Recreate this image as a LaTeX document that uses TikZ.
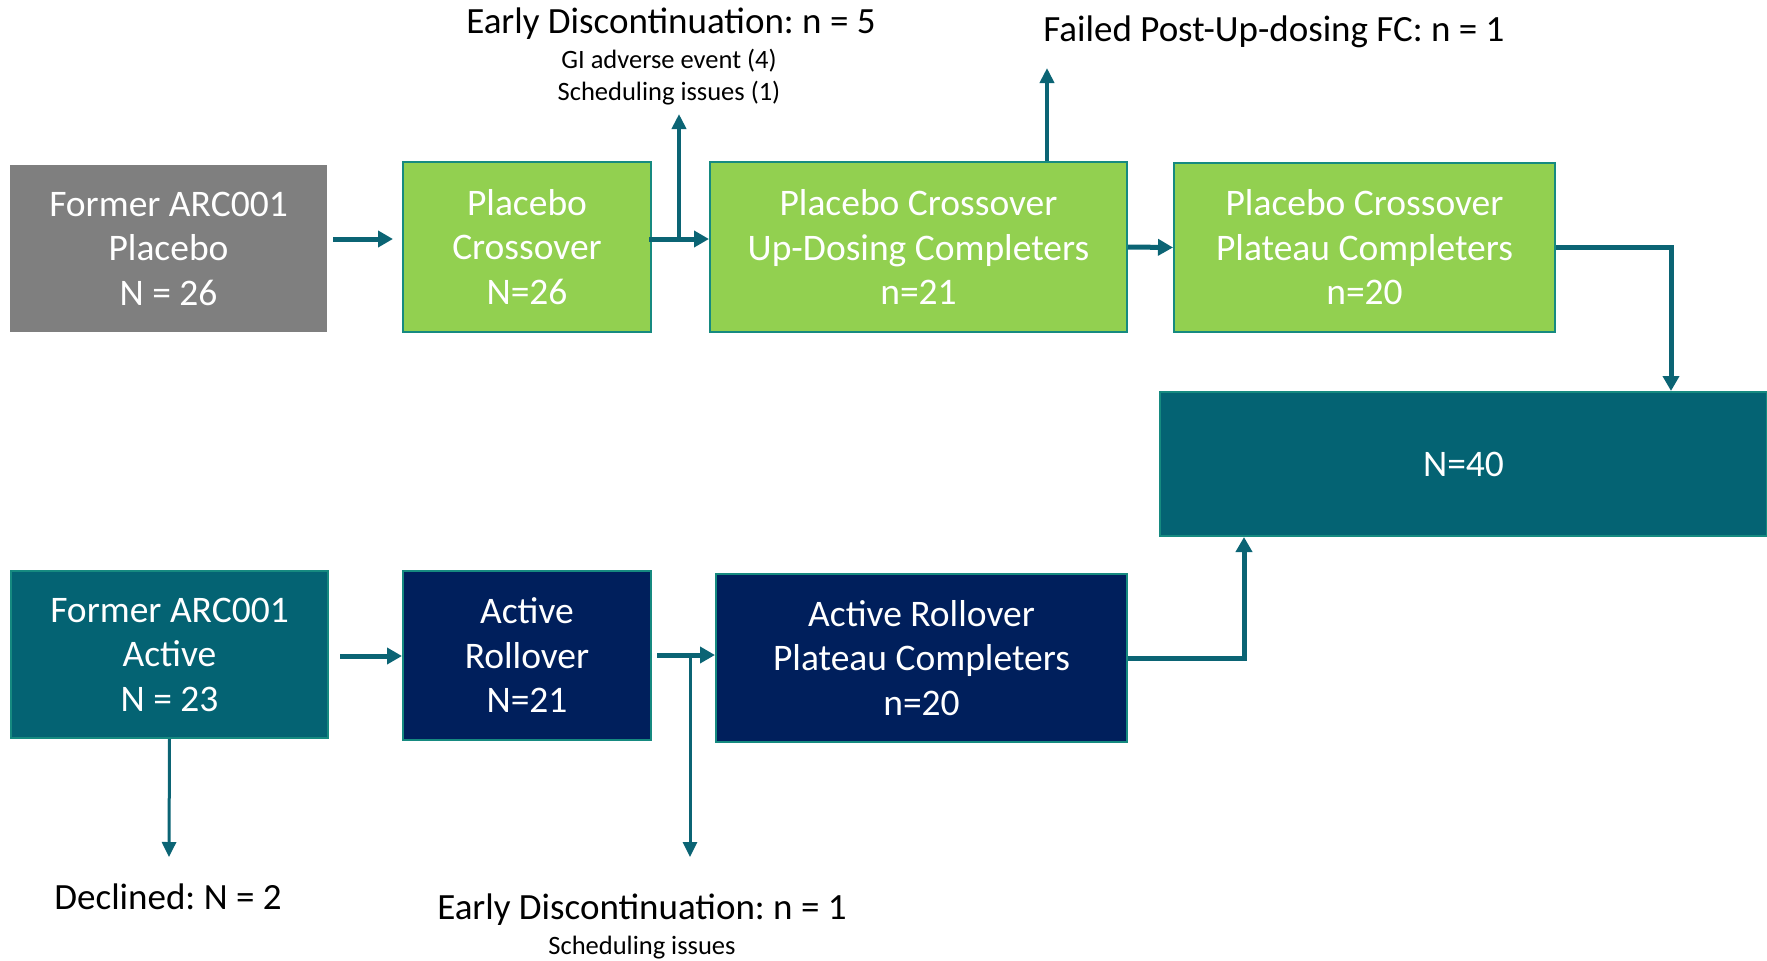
\documentclass[tikz,border=0pt]{standalone}
\usepackage{fontspec}
\setmainfont{Carlito}
\usetikzlibrary{arrows.meta}
\frenchspacing
\definecolor{greybox}{HTML}{7F7F7F}
\definecolor{greenbox}{HTML}{92D050}
\definecolor{tealbox}{HTML}{046373}
\definecolor{navybox}{HTML}{001F5C}
\definecolor{boxedge}{HTML}{168A80}
\definecolor{flowcol}{HTML}{0B6474}
\tikzset{
  box/.style={draw=boxedge,line width=2,text=white,align=center,inner sep=0,
    font=\fontsize{37.5}{44.5}\selectfont},
  flow/.style={draw=flowcol,line width=5,-{Triangle[length=15,width=16]}},
  branch/.style={draw=flowcol,line width=4,-{Triangle[length=15,width=14]}},
  title/.style={font=\fontsize{37}{42}\selectfont},
  note/.style={font=\fontsize{26.5}{32.7}\selectfont,align=center}
}
\begin{document}
\begin{tikzpicture}[x=1pt,y=1pt]
\useasboundingbox(0,0)rectangle(1767,-961);
% placebo row
\node[box,draw=none,fill=greybox,minimum width=317,minimum height=167](fp)at(168.5,-248.5){Former ARC001\\Placebo\\N = 26};
\node[box,fill=greenbox,minimum width=248,minimum height=170](pc)at(527,-247){Placebo\\Crossover\\N=26};
\node[box,fill=greenbox,minimum width=417,minimum height=170](pu)at(918.5,-247){Placebo Crossover\\Up-Dosing Completers\\n=21};
\node[box,fill=greenbox,minimum width=381,minimum height=169](pp)at(1364.5,-247.5){Placebo Crossover\\Plateau Completers\\n=20};
% pooled
\node[box,fill=tealbox,minimum width=607,minimum height=144](tot)at(1463.5,-464){N=40};
% active row
\node[box,fill=tealbox,minimum width=317,minimum height=167](fa)at(169.5,-654.5){Former ARC001\\Active\\N = 23};
\node[box,fill=navybox,minimum width=248,minimum height=169](ar)at(527,-655.5){Active\\Rollover\\N=21};
\node[box,fill=navybox,minimum width=411,minimum height=168](ap)at(921.5,-658){Active Rollover\\Plateau Completers\\n=20};
% drop-outs
\node[title](ed5)at(671,-24){Early Discontinuation: n = 5};
\node[note](ed5n)at(669,-77){GI adverse event (4)\\Scheduling issues (1)};
\node[title](ff)at(1274,-32){Failed Post-Up-dosing FC: n = 1};
\node[title](dec)at(168,-897){Declined: N = 2};
\node[title](ed1)at(642,-910){Early Discontinuation: n = 1};
\node[note](ed1n)at(642,-948){Scheduling issues};
\coordinate(ed5a)at(679,-114);
\coordinate(ffa)at(1047,-68);
\coordinate(deca)at(169,-857);
\coordinate(ed1a)at(690,-857);
% connectors
\draw[flow,shorten <=5,shorten >=9](fp.east|-0,-239)--(pc.west|-0,-239);
\draw[flow,shorten <=-3](pc.east|-0,-239)--(pu.west|-0,-239);
\draw[branch](ed5a|-0,-239)--(ed5a);
\draw[branch](ffa|-pu.north)--(ffa);
\draw[flow](pu.east)--(pp.west);
\draw[flow](pp.east)-|([xshift=207.5]tot.north);
\draw[flow,shorten <=11](fa.east|-0,-656)--(ar.west|-0,-656);
\draw[flow,shorten <=5](ar.east|-0,-655)--(ap.west|-0,-655);
\draw[branch,line width=3](ed1a|-0,-655)--(ed1a);
\draw[branch,line width=3](fa.south)--(deca);
\draw[flow](ap.east)-|([xshift=-219.5]tot.south);
\end{tikzpicture}
\end{document}
